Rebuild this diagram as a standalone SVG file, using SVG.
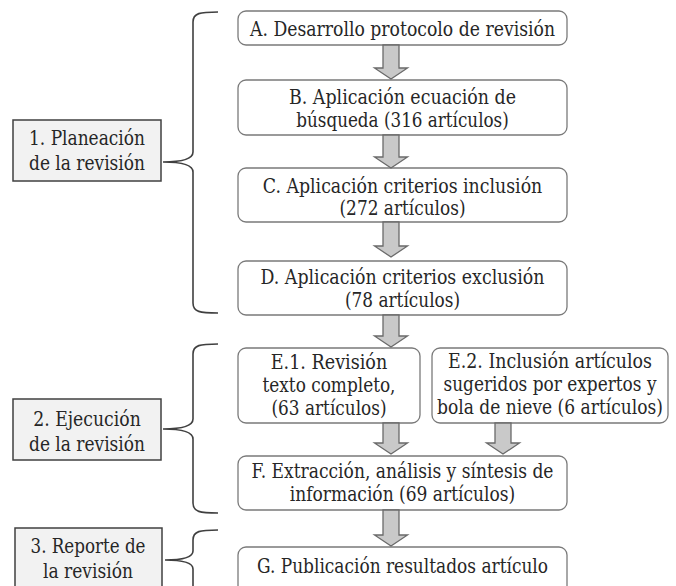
<svg xmlns="http://www.w3.org/2000/svg" width="676" height="586" viewBox="0 0 676 586">
<style>
  .t { font-family: 'DejaVu Serif', serif; font-size: 19.5px; fill: #262626; text-anchor: middle; }
  .phase { fill: #f2f2f2; stroke: #404040; stroke-width: 1.5; }
  .step { fill: #ffffff; stroke: #7a7a7a; stroke-width: 1.3; }
  .brace { fill: none; stroke: #404040; stroke-width: 1.6; }
  .arrow { fill: #c9c9c9; stroke: #6a6a6a; stroke-width: 1.3; stroke-linejoin: miter; }
</style>
<rect width="676" height="586" fill="#ffffff"/>

<g id="phase1">
  <rect class="phase" x="13" y="120" width="148" height="61"/>
  <text class="t" x="87" y="145" textLength="116" lengthAdjust="spacingAndGlyphs">1. Planeación</text>
  <text class="t" x="87" y="170" textLength="116" lengthAdjust="spacingAndGlyphs">de la revisión</text>
</g>
<g id="phase2">
  <rect class="phase" x="13" y="399" width="148" height="61"/>
  <text class="t" x="87" y="426" textLength="107.5" lengthAdjust="spacingAndGlyphs">2. Ejecución</text>
  <text class="t" x="87" y="451" textLength="116" lengthAdjust="spacingAndGlyphs">de la revisión</text>
</g>
<g id="phase3">
  <rect class="phase" x="15" y="528" width="147" height="70"/>
  <text class="t" x="88" y="553" textLength="115" lengthAdjust="spacingAndGlyphs">3. Reporte de</text>
  <text class="t" x="88" y="578" textLength="90" lengthAdjust="spacingAndGlyphs">la revisión</text>
</g>

<g id="A">
  <rect class="step" x="238" y="11" width="329" height="34" rx="8"/>
  <text class="t" x="402.5" y="36" textLength="305" lengthAdjust="spacingAndGlyphs">A. Desarrollo protocolo de revisión</text>
</g>
<g id="B">
  <rect class="step" x="238" y="80" width="329" height="55" rx="8"/>
  <text class="t" x="402.5" y="104" textLength="227" lengthAdjust="spacingAndGlyphs">B. Aplicación ecuación de</text>
  <text class="t" x="402.5" y="127" textLength="212.5" lengthAdjust="spacingAndGlyphs">búsqueda (316 artículos)</text>
</g>
<g id="C">
  <rect class="step" x="238" y="168" width="329" height="54" rx="8"/>
  <text class="t" x="402.5" y="193" textLength="279.5" lengthAdjust="spacingAndGlyphs">C. Aplicación criterios inclusión</text>
  <text class="t" x="402.5" y="215" textLength="126" lengthAdjust="spacingAndGlyphs">(272 artículos)</text>
</g>
<g id="D">
  <rect class="step" x="238" y="261" width="329" height="54" rx="8"/>
  <text class="t" x="402.5" y="284" textLength="284" lengthAdjust="spacingAndGlyphs">D. Aplicación criterios exclusión</text>
  <text class="t" x="402.5" y="307" textLength="115" lengthAdjust="spacingAndGlyphs">(78 artículos)</text>
</g>
<g id="E1">
  <rect class="step" x="238" y="348" width="182" height="75" rx="8"/>
  <text class="t" x="329" y="369" textLength="116.5" lengthAdjust="spacingAndGlyphs">E.1. Revisión</text>
  <text class="t" x="329" y="392" textLength="133" lengthAdjust="spacingAndGlyphs">texto completo,</text>
  <text class="t" x="329" y="415" textLength="115" lengthAdjust="spacingAndGlyphs">(63 artículos)</text>
</g>
<g id="E2">
  <rect class="step" x="432" y="348" width="236" height="75" rx="8"/>
  <text class="t" x="550" y="368" textLength="204" lengthAdjust="spacingAndGlyphs">E.2. Inclusión artículos</text>
  <text class="t" x="550" y="391" textLength="213" lengthAdjust="spacingAndGlyphs">sugeridos por expertos y</text>
  <text class="t" x="550" y="414" textLength="226" lengthAdjust="spacingAndGlyphs">bola de nieve (6 artículos)</text>
</g>
<g id="F">
  <rect class="step" x="238" y="456" width="329" height="54" rx="8"/>
  <text class="t" x="402.5" y="478" textLength="302" lengthAdjust="spacingAndGlyphs">F. Extracción, análisis y síntesis de</text>
  <text class="t" x="402.5" y="501" textLength="225.5" lengthAdjust="spacingAndGlyphs">información (69 artículos)</text>
</g>
<g id="G">
  <rect class="step" x="238" y="547" width="329" height="50" rx="8"/>
  <text class="t" x="402.5" y="573" textLength="291" lengthAdjust="spacingAndGlyphs">G. Publicación resultados artículo</text>
</g>

<g id="connectors">
  <path class="brace" d="M218,12 C200,12 193,13 193,22 L193,152 Q193,162 163,162 Q193,162 193,172 L193,303 C193,312 200,313 218,313"/>
  <path class="brace" d="M218,344 C200,344 193,345 193,354 L193,419 Q193,429 163,429 Q193,429 193,439 L193,503 C193,512 200,513 218,513"/>
  <path class="brace" d="M218,530 C200,530 193,531 193,540 L193,551 Q193,560 165,560 Q193,560 193,569 L193,600"/>

  <path class="arrow" d="M383,45 L399,45 L399,68 L407.5,68 L391,79 L374.5,68 L383,68 Z"/>
  <path class="arrow" d="M383,135 L399,135 L399,157 L407.5,157 L391,168 L374.5,157 L383,157 Z"/>
  <path class="arrow" d="M383,222 L399,222 L399,246 L407.5,246 L391,257 L374.5,246 L383,246 Z"/>
  <path class="arrow" d="M383,315 L399,315 L399,336 L407.5,336 L391,347 L374.5,336 L383,336 Z"/>
  <path class="arrow" d="M383,423 L399,423 L399,443 L407.5,443 L391,454 L374.5,443 L383,443 Z"/>
  <path class="arrow" d="M495,423 L511,423 L511,443 L519.5,443 L503,454 L486.5,443 L495,443 Z"/>
  <path class="arrow" d="M383,510 L399,510 L399,535 L407.5,535 L391,546 L374.5,535 L383,535 Z"/>
</g>
</svg>
